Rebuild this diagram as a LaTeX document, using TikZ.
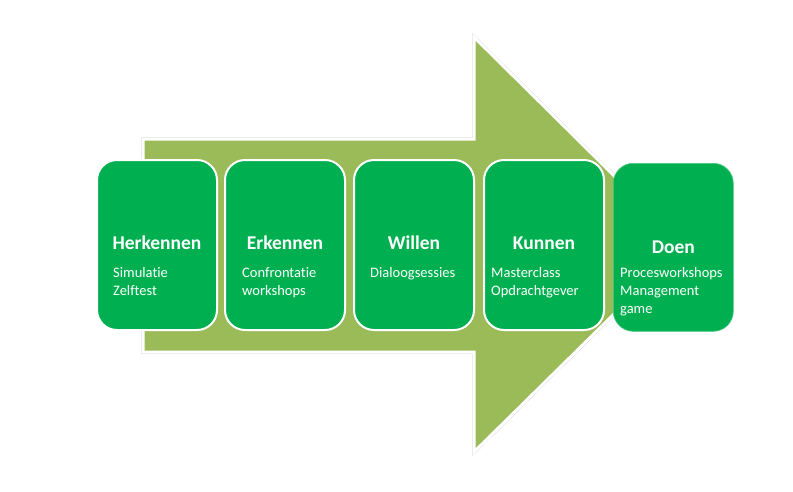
\documentclass[tikz,border=0pt]{standalone}
\usepackage{fontspec}
\setmainfont{Carlito}[Ligatures=NoCommon]
\definecolor{boxgreen}{RGB}{0,176,80}
\definecolor{arrowgreen}{RGB}{155,187,89}
\begin{document}
\begin{tikzpicture}[x=1pt,y=-1pt,
  stage/.style={draw=white,line width=2pt,fill=boxgreen,rounded corners=20pt,
    minimum width=120pt,minimum height=170pt,inner sep=0pt,anchor=north west},
  title/.style={text=white,font=\bfseries\fontsize{19.5}{22}\selectfont,inner sep=0pt},
  sub/.style={text=white,font=\fontsize{14.5}{18}\selectfont,inner sep=0pt,
    anchor=north west,align=left}]
\useasboundingbox (0,0) rectangle (793,491);
% arrow
\coordinate (a1) at (143,139);
\coordinate (a2) at (474,139);
\coordinate (a3) at (474,37);
\coordinate (a4) at (684,245);
\coordinate (a5) at (474,452);
\coordinate (a6) at (474,352);
\coordinate (a7) at (143,352);
\draw[black!18,line width=3.5pt,line join=miter,xshift=-1.2pt,yshift=1.5pt]
  (a1) -- (a2) -- (a3) -- (a4) -- (a5) -- (a6) -- (a7) -- cycle;
\draw[white,line width=3pt,fill=arrowgreen,line join=miter]
  (a1) -- (a2) -- (a3) -- (a4) -- (a5) -- (a6) -- (a7) -- cycle;
% boxes
\node[stage] (b1) at (96,159) {};
\node[stage] (b2) at (224,159) {};
\node[stage] (b3) at (353,159) {};
\node[stage] (b4) at (483,159) {};
\node[stage,draw=boxgreen!70!white,line width=0.6pt,minimum height=168pt] (b5) at (613,163) {};
% titles
\node[title] (t1) at ([yshift=-84pt]b1.north) {Herkennen};
\node[title] (t2) at ([yshift=-84pt]b2.north) {Erkennen};
\node[title] (t3) at ([yshift=-84pt]b3.north) {Willen};
\node[title] (t4) at ([yshift=-84pt]b4.north) {Kunnen};
\node[title] (t5) at ([yshift=-84pt]b5.north) {Doen};
% sub texts
\node[sub] (s1) at (113,267) {Simulatie\\Zelftest};
\node[sub] (s2) at (242,267) {Confrontatie\\workshops};
\node[sub] (s3) at (370,267) {Dialoogsessies};
\node[sub] (s4) at (491,267) {Masterclass\\Opdrachtgever};
\node[sub] (s5) at (620,267) {Procesworkshops\\Management\\game};
\end{tikzpicture}
\end{document}
